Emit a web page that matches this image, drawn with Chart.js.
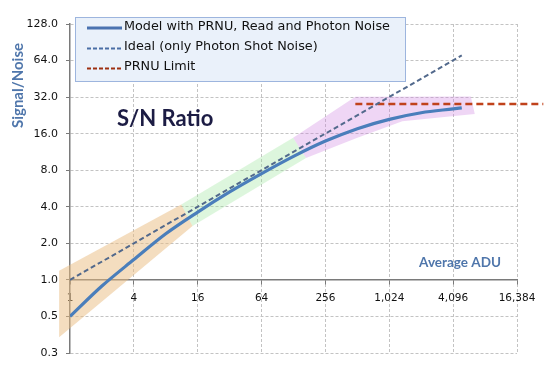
<!DOCTYPE html>
<html>
<head>
<meta charset="utf-8">
<script src="https://cdn.jsdelivr.net/npm/chart.js@4.4.1/dist/chart.umd.min.js"></script>
<style>
  html, body { margin: 0; padding: 0; background: #fff; }
  #wrap { position: relative; width: 548px; height: 376px; }
</style>
</head>
<body>
<div id="wrap"><canvas id="snchart"></canvas></div>
<script>
// values
var adu = [1, 2, 4, 8, 16, 32, 64, 128, 256, 512, 1024, 2048, 4096, 4940];
var modelSN = [0.5, 0.89, 1.47, 2.4, 3.62, 5.3, 7.5, 10.4, 13.9, 17.6, 21.0, 23.8, 25.6, 26.1];
var idealAdu = [1, 4940];
var idealSN = [1, 70.5];
var prnuAdu = [490, 29000];
var prnuSN = [28.1, 28.1];

var xTicks = [1, 4, 16, 64, 256, 1024, 4096, 16384];
var xTickLabels = ["1", "4", "16", "64", "256", "1,024", "4,096", "16,384"];
var yTicks = [0.25, 0.5, 1, 2, 4, 8, 16, 32, 64, 128];
var yTickLabels = ["0.3", "0.5", "1.0", "2.0", "4.0", "8.0", "16.0", "32.0", "64.0", "128.0"];

// shaded regions: corners as [adu, s/n]
var bandLow = [[0.79, 1.19], [11.2, 4.18], [14.3, 2.78], [0.79, 0.337]];
var bandMid = [[11.2, 4.18], [127, 14.8], [168, 10.1], [14.3, 2.78]];
var bandHigh = [[127, 14.8], [490, 32.2], [6010, 32.4], [6550, 23.2], [3760, 22.2], [1360, 20.2], [498, 14.7], [168, 10.1]];

var seriesNames = ["Model with PRNU, Read and Photon Noise", "Ideal (only Photon Shot Noise)", "PRNU Limit"];

function pts(xs, ys) {
  return xs.map(function (x, i) { return { x: x, y: ys[i] }; });
}

var gridColor = "#c3c3c3";
var axisColor = "#7a7a7a";

// no grid line where the two axes already sit
function gridAt(c) {
  return c.tick && c.tick.value === 1 ? "rgba(0,0,0,0)" : gridColor;
}

// bands, legend box and the free-standing titles
var decor = {
  id: "decor",
  beforeDatasetsDraw: function (chart) {
    var ctx = chart.ctx, x = chart.scales.x, y = chart.scales.y;
    var bands = [
      [bandLow, "rgba(233,188,128,0.5)"],
      [bandMid, "rgba(150,228,150,0.32)"],
      [bandHigh, "rgba(205,128,225,0.32)"]
    ];
    bands.forEach(function (b) {
      ctx.save();
      ctx.beginPath();
      b[0].forEach(function (p, i) {
        var px = x.getPixelForValue(p[0]), py = y.getPixelForValue(p[1]);
        if (i) ctx.lineTo(px, py); else ctx.moveTo(px, py);
      });
      ctx.closePath();
      ctx.fillStyle = b[1];
      ctx.fill();
      ctx.restore();
    });
  },
  afterDraw: function (chart) {
    var ctx = chart.ctx;
    ctx.save();

    // legend
    ctx.fillStyle = "#eaf1fa";
    ctx.fillRect(75, 17, 330, 64);
    ctx.strokeStyle = "#9db5de";
    ctx.lineWidth = 1;
    ctx.strokeRect(75.5, 17.5, 330, 64);
    var rows = [28, 48.5, 68.5];
    var legStyle = [
      { c: "#4a72b0", w: 3, d: [] },
      { c: "#4a6fa5", w: 2, d: [4, 2] },
      { c: "#9e3010", w: 2, d: [4, 2] }
    ];
    chart.data.datasets.forEach(function (ds, i) {
      var s = legStyle[i];
      ctx.beginPath();
      ctx.setLineDash(s.d);
      ctx.lineWidth = s.w;
      ctx.strokeStyle = s.c;
      ctx.moveTo(87, rows[i]);
      ctx.lineTo(122, rows[i]);
      ctx.stroke();
      ctx.setLineDash([]);
      ctx.fillStyle = "#111";
      ctx.font = '12.8px "DejaVu Sans"';
      ctx.textAlign = "left";
      ctx.textBaseline = "middle";
      ctx.fillText(ds.label, 124, rows[i] - 1.5);
    });

    // chart title inside the plot
    ctx.fillStyle = "#1c1c44";
    ctx.font = "bold 22px Lato";
    ctx.textBaseline = "alphabetic";
    ctx.fillText("S/N Ratio", 117, 126);

    // axis titles
    ctx.fillStyle = "#4f76ab";
    ctx.font = "bold 13.5px Lato";
    ctx.textAlign = "right";
    ctx.textBaseline = "middle";
    ctx.fillText("Average ADU", 501, 263);

    ctx.translate(18, 85.5);
    ctx.rotate(-Math.PI / 2);
    ctx.textAlign = "center";
    ctx.font = "bold 15px Lato";
    ctx.fillText("Signal/Noise", 0, 0);
    ctx.restore();
  }
};

var ctx = document.getElementById("snchart").getContext("2d");

var chart = new Chart(ctx, {
  type: "line",
  data: {
    datasets: [
      {
        label: seriesNames[0],
        data: pts(adu, modelSN),
        borderColor: "#4a7ebb",
        borderWidth: 3.2,
        pointRadius: 0,
        cubicInterpolationMode: "monotone"
      },
      {
        label: seriesNames[1],
        data: pts(idealAdu, idealSN),
        borderColor: "#52698c",
        borderWidth: 2,
        borderDash: [5, 3],
        pointRadius: 0
      },
      {
        label: seriesNames[2],
        data: pts(prnuAdu, prnuSN),
        borderColor: "#c0421b",
        borderWidth: 2.5,
        borderDash: [7, 4],
        pointRadius: 0,
        clip: false
      }
    ]
  },
  options: {
    animation: false,
    responsive: true,
    maintainAspectRatio: false,
    layout: { padding: { top: 24, right: 31, bottom: 23, left: 0 } },
    plugins: {
      legend: { display: false },
      tooltip: { enabled: false }
    },
    scales: {
      x: {
        type: "logarithmic",
        position: { y: 1 },
        min: 1,
        max: 16384,
        afterBuildTicks: function (s) {
          s.ticks = xTicks.map(function (v) { return { value: v }; });
        },
        ticks: {
          autoSkip: false,
          maxRotation: 0,
          padding: 8,
          color: "#111",
          font: { family: "DejaVu Sans", size: 10.5 },
          callback: function (v, i) { return xTickLabels[i]; }
        },
        grid: { color: gridAt, tickColor: axisColor, tickLength: 4, tickWidth: 1 },
        border: { color: axisColor, width: 1.5, dash: [3, 2] }
      },
      y: {
        type: "logarithmic",
        position: "left",
        min: 0.25,
        max: 128,
        afterBuildTicks: function (s) {
          s.ticks = yTicks.map(function (v) { return { value: v }; });
        },
        afterFit: function (s) { s.width = 70; },
        ticks: {
          autoSkip: false,
          padding: 8,
          color: "#111",
          font: { family: "DejaVu Sans", size: 11 },
          callback: function (v, i) { return yTickLabels[i]; }
        },
        grid: { color: gridAt, tickColor: axisColor, tickLength: 4, tickWidth: 1 },
        border: { color: axisColor, width: 1.5, dash: [3, 2] }
      }
    }
  },
  plugins: [decor]
});
</script>
</body>
</html>
